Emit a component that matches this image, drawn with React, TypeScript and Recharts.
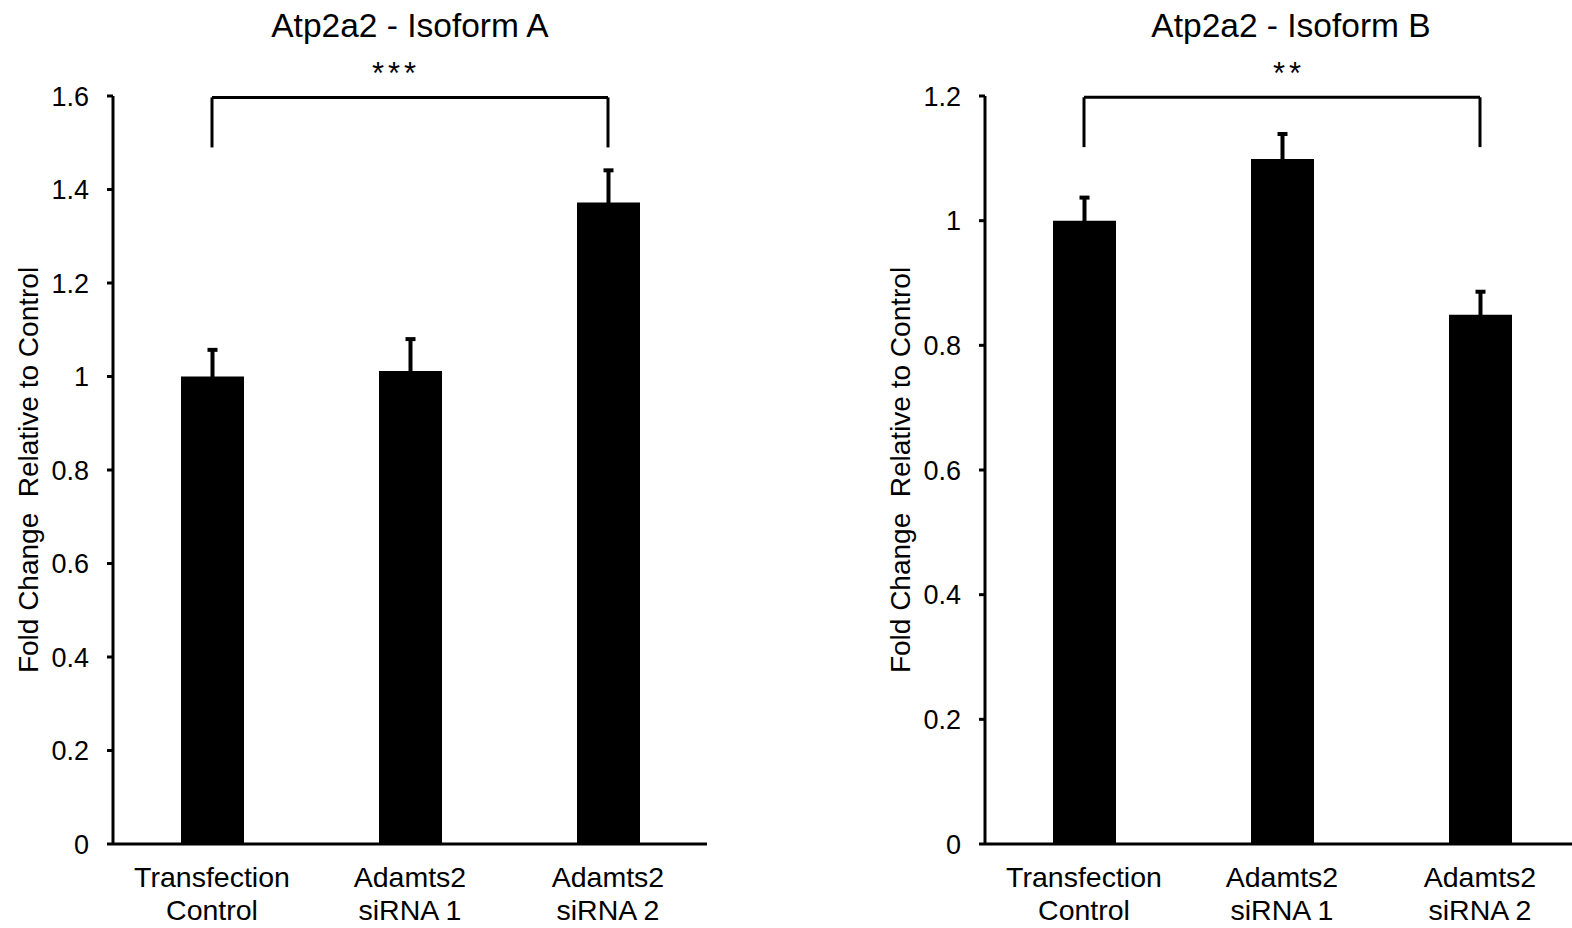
import { BarChart, Bar, XAxis, YAxis, ErrorBar, ReferenceLine, Label } from "recharts"

// category labels, split over two lines under the axis
const groupTop = ["Transfection", "Adamts2", "Adamts2"]
const groupBottom = ["Control", "siRNA 1", "siRNA 2"]
const groups = groupTop.map((t, i) => t + " " + groupBottom[i])

// Atp2a2 isoform A
const isoformA = [1.0, 1.012, 1.372]
const isoformAErr = [0.057, 0.068, 0.069]
const ticksA = [0, 0.2, 0.4, 0.6, 0.8, 1, 1.2, 1.4, 1.6]

// Atp2a2 isoform B
const isoformB = [1.0, 1.099, 0.849]
const isoformBErr = [0.037, 0.04, 0.037]
const ticksB = [0, 0.2, 0.4, 0.6, 0.8, 1, 1.2]

// significance brackets (from, to, top, foot)
const bracketA = { from: 0, to: 2, top: 1.597, foot: 1.49, mark: "***" }
const bracketB = { from: 0, to: 2, top: 1.198, foot: 1.118, mark: "**" }

const FONT = '"Liberation Sans", Arial, sans-serif'

function GroupTick(props: any) {
    const { x, y, payload } = props
    const i = groups.indexOf(payload.value)
    return (
        <text x={x} y={y + 43} textAnchor="middle" fontSize={28.5} fill="#000">
            <tspan x={x}>{groupTop[i]}</tspan>
            <tspan x={x} dy={33}>{groupBottom[i]}</tspan>
        </text>
    )
}

type PanelProps = {
    values: number[]
    errors: number[]
    ticks: number[]
    bracket: { from: number, to: number, top: number, foot: number, mark: string }
}

function Panel(props: PanelProps) {
    // only the upper error is drawn; the lower cap is tucked inside the bar
    const data = groups.map((g, i) => ({ group: g, value: props.values[i], err: [0.012, props.errors[i]] }))
    const max = props.ticks[props.ticks.length - 1]
    const b = props.bracket
    const line = { stroke: "#000", strokeWidth: 3, ifOverflow: "visible" as const }
    return (
        <BarChart width={727} height={928} data={data} margin={{ top: 96, right: 20, bottom: 0, left: 0 }} barSize={63}>
            <XAxis dataKey="group" height={84} interval={0} tickLine={false} tickSize={0} tickMargin={0}
                axisLine={{ stroke: "#000", strokeWidth: 3 }} tick={<GroupTick />} />
            <YAxis width={113} domain={[0, max]} ticks={props.ticks} tickSize={6} tickMargin={18}
                axisLine={{ stroke: "#000", strokeWidth: 3 }} tickLine={{ stroke: "#000", strokeWidth: 3 }}
                tick={{ fill: "#000", fontSize: 27 }}>
                <Label content={() => (
                    <text x={28} y={470} transform="rotate(-90 28 470)" textAnchor="middle"
                        dominantBaseline="central" fontSize={28} fill="#000" style={{ whiteSpace: "pre" }}>
                        Fold Change  Relative to Control
                    </text>
                )} />
            </YAxis>
            <Bar dataKey="value" fill="#000" isAnimationActive={false}>
                <ErrorBar dataKey="err" direction="y" width={5} stroke="#000" strokeWidth={4} isAnimationActive={false} />
            </Bar>
            <ReferenceLine {...line} segment={[{ x: groups[b.from], y: b.foot }, { x: groups[b.from], y: b.top }]} />
            <ReferenceLine {...line} segment={[{ x: groups[b.from], y: b.top }, { x: groups[b.to], y: b.top }]} />
            <ReferenceLine {...line} segment={[{ x: groups[b.to], y: b.top }, { x: groups[b.to], y: b.foot }]} />
        </BarChart>
    )
}

export default function App() {
    return (
        <div style={{ position: "absolute", left: 0, top: 0, width: 1572, height: 928, overflow: "hidden", background: "#fff", fontFamily: FONT }}>
            <div style={{ position: "absolute", left: 0, top: 0 }}>
                <Panel values={isoformA} errors={isoformAErr} ticks={ticksA} bracket={bracketA} />
            </div>
            <div style={{ position: "absolute", left: 872, top: 0 }}>
                <Panel values={isoformB} errors={isoformBErr} ticks={ticksB} bracket={bracketB} />
            </div>
            <svg width={1572} height={928} style={{ position: "absolute", left: 0, top: 0, pointerEvents: "none" }}>
                <text x={410} y={37} textAnchor="middle" fontSize={33.5} fill="#000">Atp2a2 - Isoform A</text>
                <text x={1291} y={37} textAnchor="middle" fontSize={33.5} fill="#000">Atp2a2 - Isoform B</text>
                <text x={396} y={84} textAnchor="middle" fontSize={31} letterSpacing={4} fill="#000">{bracketA.mark}</text>
                <text x={1289} y={84} textAnchor="middle" fontSize={31} letterSpacing={4} fill="#000">{bracketB.mark}</text>
            </svg>
        </div>
    )
}
